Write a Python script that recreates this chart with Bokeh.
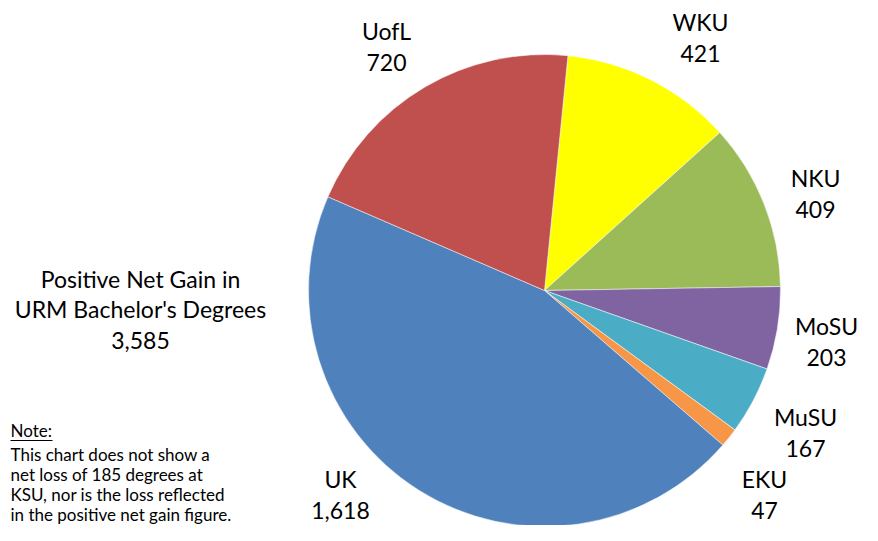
import math
from bokeh.plotting import figure
from bokeh.models import ColumnDataSource, Range1d
from bokeh.core.properties import value
from bokeh.embed import file_html
from bokeh.resources import INLINE

# ---- data (clockwise order starting just right of top) ----
schools = ["WKU", "NKU", "MoSU", "MuSU", "EKU", "UK", "UofL"]
degrees = [421, 409, 203, 167, 47, 1618, 720]
colors = ["#FFFF00", "#9BBB59", "#8064A2", "#4BACC6", "#F79646", "#4F81BD", "#C0504D"]
total_label = "3,585"
title_lines = ["Positive Net Gain in", "URM Bachelor's Degrees"]
note_lines = ["This chart does not show a", "net loss of 185 degrees at",
              "KSU, nor is the loss reflected", "in the positive net gain figure."]

# ---- layout ----
W, H = 862, 525
FONT = value("Lato")


def sx(X):
    return X


def sy(Y):
    return H - Y


p = figure(width=W, height=H, output_backend="svg", toolbar_location=None,
           x_range=Range1d(0, W), y_range=Range1d(0, H), min_border=0)
p.axis.visible = False
p.grid.visible = False
p.outline_line_color = None
p.background_fill_color = "white"
p.border_fill_color = "white"

cx, cy, R = sx(544), sy(290), 236
first_angle = math.radians(5.7)  # clockwise from top where first slice starts
tot = sum(degrees)
starts, ends = [], []
acc = 0.0
for d in degrees:
    a0 = first_angle + 2 * math.pi * acc / tot
    acc += d
    a1 = first_angle + 2 * math.pi * acc / tot
    starts.append(math.pi / 2 - a0)
    ends.append(math.pi / 2 - a1)

src = ColumnDataSource(dict(x=[cx] * len(degrees), y=[cy] * len(degrees),
                            start=starts, end=ends, color=colors))
p.wedge(x="x", y="y", radius=R, radius_units="screen", start_angle="start",
        end_angle="end", direction="clock", fill_color="color",
        line_color="white", line_width=0.5, source=src)

# slice labels (name above, value below)
label_pos = {"UofL": (386, 30), "WKU": (700, 21), "NKU": (815, 177),
             "MoSU": (826, 325), "MuSU": (805, 416), "EKU": (764, 478),
             "UK": (340, 478)}
lx, ly, lt = [], [], []
for s, d in zip(schools, degrees):
    X, Y = label_pos[s]
    lx += [sx(X), sx(X)]
    ly += [sy(Y), sy(Y + 32)]
    lt += [s, f"{d:,}"]
p.text(x=lx, y=ly, text=lt, text_align="center", text_baseline="middle",
       text_font=FONT, text_font_size="23px", text_color="black")

# total label
tx = [sx(140)] * 3
ty = [sy(278), sy(308), sy(340)]
p.text(x=tx, y=ty, text=title_lines + [total_label], text_align="center",
       text_baseline="middle", text_font=FONT, text_font_size="23px",
       text_color="black")

# note
p.text(x=[sx(10)], y=[sy(430)], text=["Note:"], text_align="left",
       text_baseline="middle", text_font=FONT, text_font_size="17px",
       text_color="black")
p.segment(x0=[sx(10)], y0=[sy(440)], x1=[sx(52)], y1=[sy(440)],
          line_color="black", line_width=1)
p.text(x=[sx(10)] * 4, y=[sy(454), sy(474), sy(494), sy(514)], text=note_lines,
       text_align="left", text_baseline="middle", text_font=FONT,
       text_font_size="17px", text_color="black")

open("out.html", "w").write(file_html(p, INLINE))
